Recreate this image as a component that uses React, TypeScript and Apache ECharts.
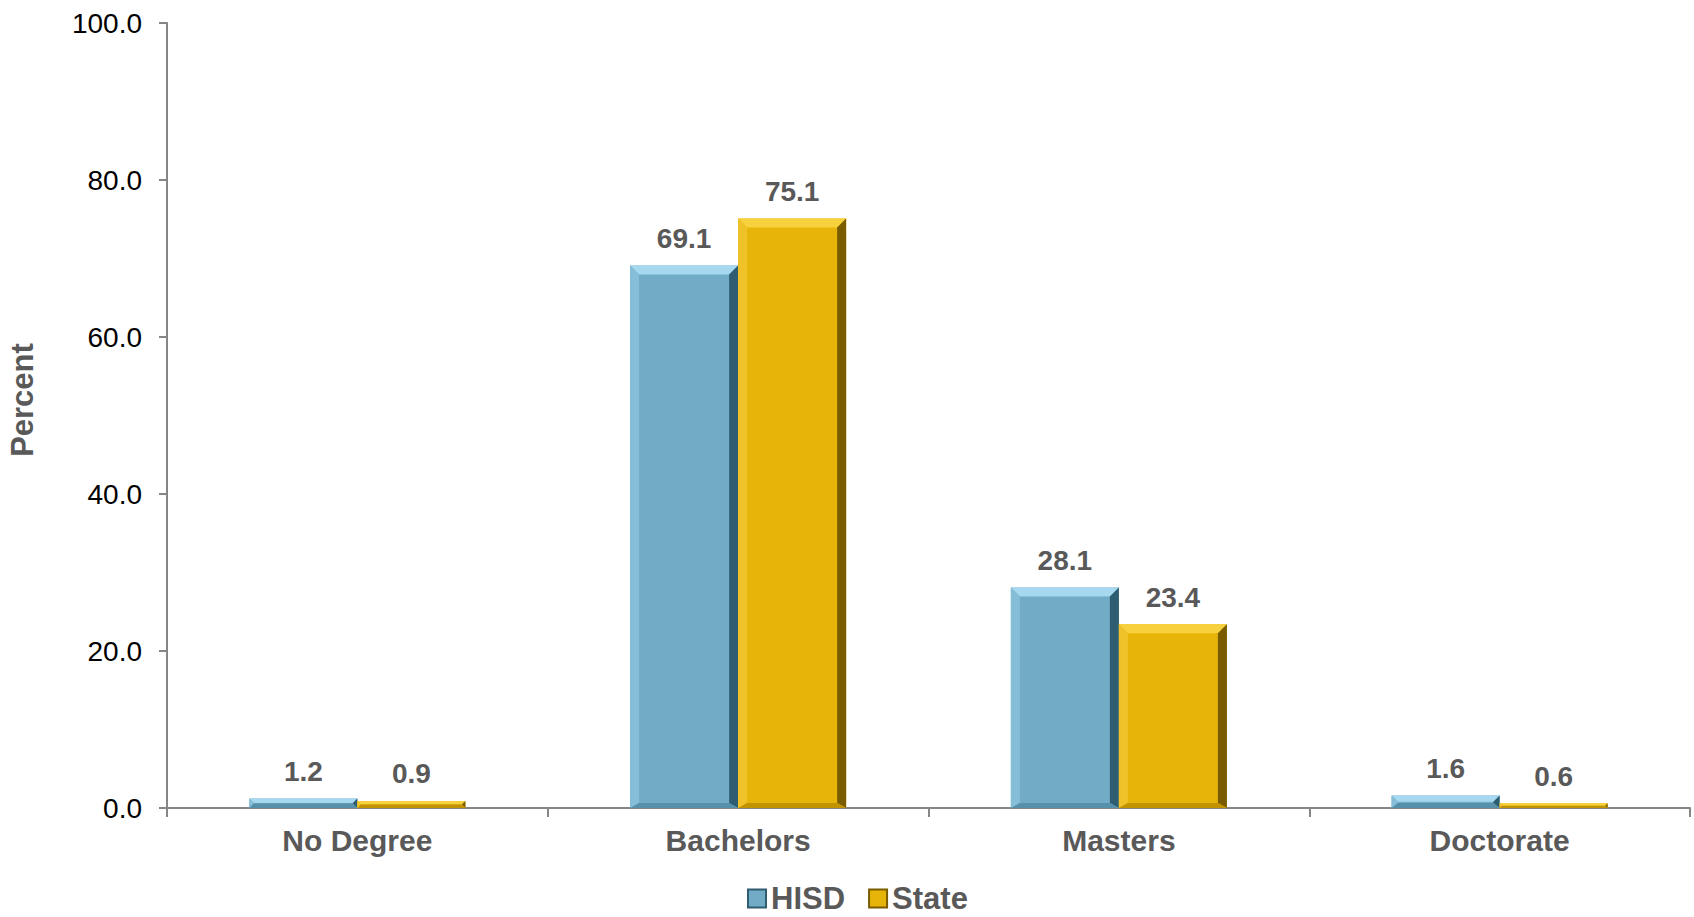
import React, { useEffect, useRef } from "react";
import * as echarts from "echarts";

const categories = ["No Degree", "Bachelors", "Masters", "Doctorate"];
const hisdValues = [1.2, 69.1, 28.1, 1.6];
const stateValues = [0.9, 75.1, 23.4, 0.6];
const seriesNames = ["HISD", "State"];
const yMin = 0;
const yMax = 100;
const yInterval = 20;

const FONT = '"Liberation Sans", Arial, sans-serif';
const LABEL_COLOR = "#595959";

const palettes = [
  { main: "#71ABC6", top: "#A6D9EF", left: "#86BDD7", right: "#2E5D71", bottom: "#5790AA" },
  { main: "#E7B409", top: "#F8D23E", left: "#EFC22A", right: "#7A5C00", bottom: "#C29300" },
];

function makeRenderItem(seriesIdx: number) {
  return (params: any, api: any) => {
    const ci = api.value(0);
    const v = api.value(1);
    const top = api.coord([ci, v]);
    const base = api.coord([ci, 0]);
    const band = api.size([1, 0])[0];
    const w = band * 0.2837;
    const cx = top[0];
    const x0 = seriesIdx === 0 ? cx - w : cx;
    const x1 = x0 + w;
    const y0 = top[1];
    const y1 = base[1];
    const h = y1 - y0;
    const b = Math.max(0, Math.min(9, h / 2));
    const bb = Math.min(b, 5);
    const p = palettes[seriesIdx];
    const children: any[] = [
      { type: "rect", shape: { x: x0, y: y0, width: w, height: h }, style: { fill: p.main } },
      {
        type: "polygon",
        shape: { points: [[x0, y0], [x1, y0], [x1 - b, y0 + b], [x0 + b, y0 + b]] },
        style: { fill: p.top },
      },
      {
        type: "polygon",
        shape: { points: [[x0, y0], [x0 + b, y0 + b], [x0 + b, y1 - bb], [x0, y1]] },
        style: { fill: p.left },
      },
      {
        type: "polygon",
        shape: { points: [[x1, y0], [x1, y1], [x1 - b, y1 - bb], [x1 - b, y0 + b]] },
        style: { fill: p.right },
      },
      {
        type: "polygon",
        shape: { points: [[x0, y1], [x1, y1], [x1 - b, y1 - bb], [x0 + b, y1 - bb]] },
        style: { fill: p.bottom },
      },
      {
        type: "text",
        style: {
          text: Number(v).toFixed(1),
          x: (x0 + x1) / 2,
          y: y0 - 27,
          align: "center",
          verticalAlign: "middle",
          fill: LABEL_COLOR,
          fontSize: 28,
          fontWeight: "bold",
          fontFamily: FONT,
        },
      },
    ];
    return { type: "group", children };
  };
}

export default function App() {
  const ref = useRef<HTMLDivElement>(null);
  useEffect(() => {
    if (!ref.current) return;
    const chart = echarts.init(ref.current, undefined, { renderer: "svg" });
    const seriesData = [hisdValues, stateValues].map((vals) => vals.map((v, i) => [i, v]));
    chart.setOption({
      animation: false,
      backgroundColor: "#ffffff",
      grid: { left: 167, right: 4, top: 23, bottom: 109, containLabel: false },
      xAxis: {
        type: "category",
        data: categories,
        axisLine: { lineStyle: { color: "#868686", width: 2 } },
        axisTick: { show: true, length: 9, lineStyle: { color: "#868686", width: 2 } },
        axisLabel: {
          color: LABEL_COLOR,
          fontSize: 30,
          fontWeight: "bold",
          fontFamily: FONT,
          margin: 17,
        },
        splitLine: { show: false },
      },
      yAxis: {
        type: "value",
        min: yMin,
        max: yMax,
        interval: yInterval,
        axisLine: { show: true, lineStyle: { color: "#868686", width: 2 } },
        axisTick: { show: true, length: 8, lineStyle: { color: "#868686", width: 2 } },
        axisLabel: {
          color: "#000000",
          fontSize: 28,
          fontFamily: FONT,
          margin: 25,
          formatter: (v: number) => v.toFixed(1),
        },
        splitLine: { show: false },
      },
      legend: {
        left: 747,
        top: 883,
        itemWidth: 18,
        itemHeight: 18,
        itemGap: 23,
        icon: "rect",
        padding: 0,
        textStyle: {
          color: LABEL_COLOR,
          fontSize: 31,
          fontWeight: "bold",
          fontFamily: FONT,
        },
        data: seriesNames.map((n, i) => ({
          name: n,
          icon: "rect",
          itemStyle: { color: palettes[i].main, borderColor: palettes[i].right, borderWidth: 2 },
        })),
      },
      graphic: [
        {
          type: "text",
          x: 22,
          y: 400,
          rotation: Math.PI / 2,
          style: {
            text: "Percent",
            align: "center",
            verticalAlign: "middle",
            fill: LABEL_COLOR,
            fontSize: 31,
            fontWeight: "bold",
            fontFamily: FONT,
          },
        },
      ],
      series: seriesNames.map((name, si) => ({
        name,
        type: "custom",
        itemStyle: { color: palettes[si].main },
        encode: { x: 0, y: 1 },
        data: seriesData[si],
        renderItem: makeRenderItem(si),
      })),
    });
    return () => chart.dispose();
  }, []);
  return (
    <div
      ref={ref}
      style={{ position: "fixed", left: 0, top: 0, width: 1694, height: 917, background: "#fff" }}
    />
  );
}
